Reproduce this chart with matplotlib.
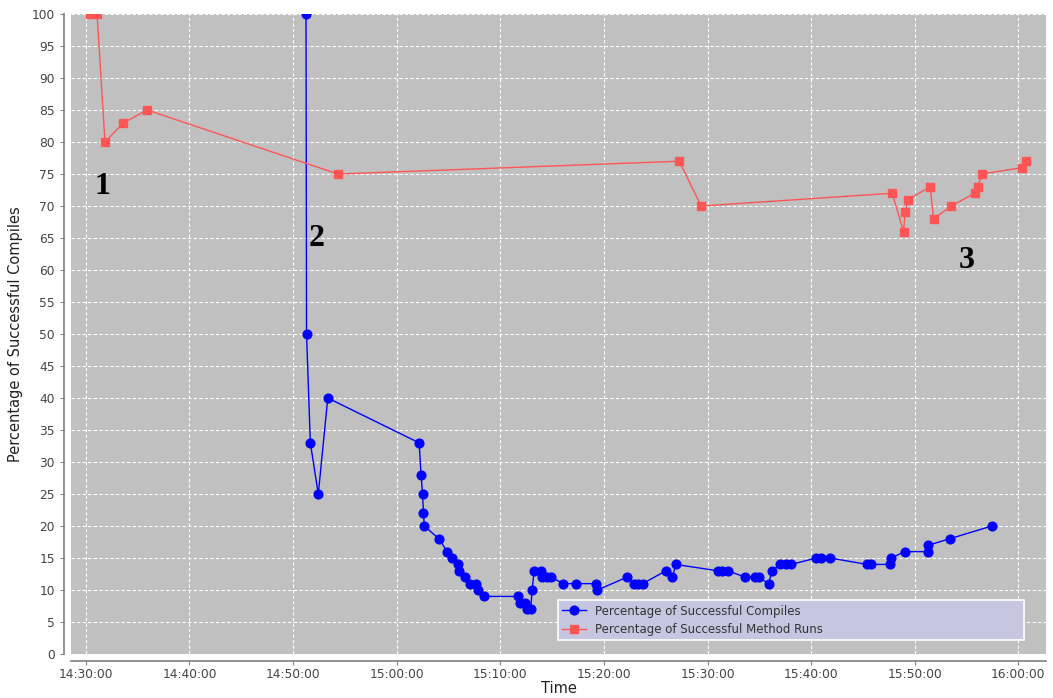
import datetime as dt
import matplotlib
matplotlib.use("Agg")
import matplotlib.pyplot as plt
import matplotlib.dates as mdates

# Timestamps (HH:MM:SS) and percentages for each series
compile_times = [
    "14:51:15", "14:51:18", "14:51:40", "14:52:26", "14:53:21",
    "15:02:10", "15:02:21", "15:02:30", "15:02:35", "15:02:40",
    "15:04:05", "15:04:52", "15:05:23", "15:05:53", "15:06:01",
    "15:06:36", "15:07:05", "15:07:37", "15:07:53", "15:08:28",
    "15:11:45", "15:11:52", "15:12:24", "15:12:35", "15:12:56",
    "15:13:04", "15:13:16", "15:13:56", "15:14:00", "15:14:29",
    "15:14:54", "15:16:05", "15:17:19", "15:19:15", "15:19:22",
    "15:22:13", "15:22:55", "15:23:18", "15:23:45", "15:25:58",
    "15:26:37", "15:26:56", "15:31:01", "15:31:25", "15:31:59",
    "15:33:38", "15:34:35", "15:34:55", "15:35:54", "15:36:13",
    "15:37:01", "15:37:35", "15:38:04", "15:40:29", "15:40:58",
    "15:41:50", "15:45:25", "15:45:47", "15:47:38", "15:47:43",
    "15:49:01", "15:51:16", "15:51:19", "15:53:21", "15:57:26",
]
compile_pct = [
    100, 50, 33, 25, 40,
    33, 28, 25, 22, 20,
    18, 16, 15, 14, 13,
    12, 11, 11, 10, 9,
    9, 8, 8, 7, 7,
    10, 13, 13, 12, 12,
    12, 11, 11, 11, 10,
    12, 11, 11, 11, 13,
    12, 14, 13, 13, 13,
    12, 12, 12, 11, 13,
    14, 14, 14, 15, 15,
    15, 14, 14, 14, 15,
    16, 16, 17, 18, 20,
]

run_times = [
    "14:30:25", "14:31:05", "14:31:51", "14:33:38", "14:35:56",
    "14:54:20", "15:27:16", "15:29:23", "15:47:49", "15:48:55",
    "15:49:04", "15:49:20", "15:51:29", "15:51:49", "15:53:31",
    "15:55:46", "15:56:05", "15:56:29", "16:00:20", "16:00:44",
]
run_pct = [
    100, 100, 80, 83, 85,
    75, 77, 70, 72, 66,
    69, 71, 73, 68, 70,
    72, 73, 75, 76, 77,
]

tick_times = ["14:30:00", "14:40:00", "14:50:00", "15:00:00", "15:10:00",
              "15:20:00", "15:30:00", "15:40:00", "15:50:00", "16:00:00"]

phase_labels = ["1", "2", "3"]
phase_times = ["14:31:35", "14:52:18", "15:54:58"]
phase_pct = [73.0, 65.0, 61.5]

DAY = dt.date(2009, 3, 4)


def to_dt(s):
    return dt.datetime.combine(DAY, dt.datetime.strptime(s, "%H:%M:%S").time())


ct = [to_dt(s) for s in compile_times]
rt = [to_dt(s) for s in run_times]
ticks = [to_dt(s) for s in tick_times]

fig = plt.figure(figsize=(10.53, 6.98), dpi=100)
ax = fig.add_axes([0.0674, 0.0630, 0.9260, 0.9169])
ax.set_facecolor("#c0c0c0")

ax.plot(ct, compile_pct, color="#0000ff", lw=1.0, marker="o", ms=6.3,
        mec="#0000ff", mfc="#0000ff", label="Percentage of Successful Compiles", zorder=3)
ax.plot(rt, run_pct, color="#ff5555", lw=1.0, marker="s", ms=6.3,
        mec="#ff5555", mfc="#ff5555", label="Percentage of Successful Method Runs",
        zorder=3)

ax.axhline(0, color="#6a6ad8", lw=0.8, ls=(0, (3, 2)), zorder=2)

for lab, t, p in zip(phase_labels, phase_times, phase_pct):
    ax.text(to_dt(t), p, lab, family="Liberation Serif", weight="bold",
            fontsize=23, ha="center", va="center", zorder=4)

ax.set_ylim(0, 100)
ax.set_yticks(range(0, 101, 5))
ax.set_xlim(to_dt("14:28:34"), to_dt("16:02:40"))
ax.set_xticks(ticks)
ax.xaxis.set_major_formatter(mdates.DateFormatter("%H:%M:%S"))

ax.grid(True, color="white", ls=(0, (3, 2)), lw=0.8, zorder=1)
ax.set_axisbelow(True)

for side in ("top", "right"):
    ax.spines[side].set_visible(False)
for side in ("left", "bottom"):
    ax.spines[side].set_position(("outward", 5))
    ax.spines[side].set_color("#808080")
    ax.spines[side].set_linewidth(1.2)

ax.tick_params(axis="both", colors="#808080", labelcolor="#444444",
               labelsize=8.8, length=3, width=0.8)
ax.tick_params(axis="x", pad=2)

ax.set_xlabel("Time", fontsize=10.5, color="#222222", labelpad=0)
ax.set_ylabel("Percentage of Successful Compiles", fontsize=10.5,
              color="#222222", family=["Liberation Sans Narrow", "DejaVu Sans"], labelpad=6)

leg = ax.legend(loc="lower left", bbox_to_anchor=(0.4995, 0.022, 0.4775, 0.066),
                mode="expand", fontsize=8.5,
                frameon=True, fancybox=False, facecolor="#c6c6e0",
                edgecolor="white", framealpha=1.0, borderpad=0.35,
                handlelength=2.0, labelspacing=0.45, borderaxespad=0)
leg.get_frame().set_linewidth(1.2)
for t in leg.get_texts():
    t.set_color("#333333")

fig.savefig("out.png", dpi=100)
